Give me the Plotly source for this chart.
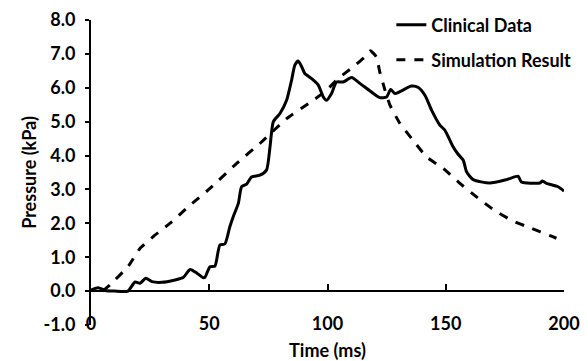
import plotly.graph_objects as go

# Clinical data (time ms, pressure kPa)
clin_t = [0, 3, 6, 10, 15.6, 18.6, 20.7, 23.2, 25.8, 30, 35.5, 39, 41.9, 44.8, 47.3, 48.2,
          50.3, 52.4, 54.5, 56.6, 58.7, 60.1, 62.3, 63.7, 65.8, 67.9, 71.4, 74.2, 75.7, 77.1,
          79.9, 82.7, 84.8, 86.2, 87.6, 89.1, 90.4, 93.3, 96.1, 98.2, 99.6, 101.7, 103.8,
          106.6, 110.2, 113.7, 117.9, 122.1, 125, 126.7, 128.5, 131.3, 135.5, 138.4, 141.2,
          144, 147.5, 149.6, 153.1, 155, 157.4, 158.8, 161.6, 168.6, 175.7, 180.6, 182,
          189.8, 190.9, 192.6, 197.5, 200]
clin_p = [0.03, 0.1, 0.02, 0.0, 0.0, 0.27, 0.23, 0.38, 0.28, 0.26, 0.33, 0.4, 0.64, 0.53, 0.4, 0.41,
          0.72, 0.74, 1.36, 1.39, 1.9, 2.19, 2.59, 3.08, 3.16, 3.37, 3.42, 3.57, 4.26, 5.0,
          5.24, 5.63, 6.22, 6.67, 6.79, 6.62, 6.42, 6.27, 6.08, 5.73, 5.63, 5.83, 6.17,
          6.17, 6.3, 6.13, 5.91, 5.71, 5.73, 5.95, 5.83, 5.91, 6.05, 6.01, 5.78,
          5.34, 4.9, 4.75, 4.26, 4.06, 3.86, 3.52, 3.29, 3.19, 3.29, 3.39, 3.22,
          3.19, 3.25, 3.18, 3.08, 2.95]

# Simulation result
sim_t = [5, 8, 15.8, 20.7, 27, 34.1, 41.1, 50.3, 61.6, 72.1, 82.7, 94, 99.6, 104.5,
         110.9, 115.8, 118.2, 120.7, 122.1, 124.3, 126.4, 130.6, 136.2, 141.9, 148.9,
         156, 163, 170, 177.8, 185.5, 194.7, 196.8]
sim_p = [0.0, 0.18, 0.74, 1.26, 1.65, 2.04, 2.49, 3.03, 3.77, 4.4, 5.09, 5.63, 5.93, 6.27,
         6.62, 6.91, 7.09, 6.91, 6.47, 5.93, 5.49, 4.95, 4.45, 3.96, 3.62,
         3.18, 2.78, 2.41, 2.09, 1.87, 1.62, 1.56]

x_ticks = [0, 50, 100, 150, 200]
y_ticks = [-1, 0, 1, 2, 3, 4, 5, 6, 7, 8]
y_tick_labels = ["-1.0", "0.0", "1.0", "2.0", "3.0", "4.0", "5.0", "6.0", "7.0", "8.0"]

FONT = "Lato"
FS = 18
fig = go.Figure()
fig.add_trace(go.Scatter(x=clin_t, y=clin_p, mode="lines", name="Clinical Data",
                         line=dict(color="black", width=3, shape="spline", smoothing=0.6),
                         legend="legend"))
fig.add_trace(go.Scatter(x=sim_t, y=sim_p, mode="lines", name="Simulation Result",
                         line=dict(color="black", width=3, dash="dash", shape="spline", smoothing=0.4),
                         legend="legend2"))

fig.update_layout(
    width=588, height=361,
    margin=dict(l=91, r=24, t=20, b=36, autoexpand=False),
    plot_bgcolor="white", paper_bgcolor="white",
    font=dict(family=FONT, size=FS, color="black", weight="bold"),
    xaxis=dict(range=[0, 200], tickvals=x_ticks, showline=False, showgrid=False,
               zeroline=False, ticks="", ticklabelstandoff=-14, automargin=False,
               title=dict(text="Time (ms)", standoff=11, font=dict(size=FS, weight="bold"))),
    xaxis2=dict(range=[0, 200], matches="x", overlaying="x", anchor="free", position=1/9,
                tickvals=x_ticks, showline=True, linewidth=2, linecolor="black",
                ticks="inside", ticklen=6, tickwidth=2, tickcolor="black",
                showticklabels=False, showgrid=False, zeroline=False, automargin=False),
    yaxis=dict(range=[-1, 8], tickvals=y_ticks, ticktext=y_tick_labels, showline=True,
               linewidth=2, linecolor="black", ticks="outside", ticklen=4, tickwidth=2,
               tickcolor="black", showgrid=False, zeroline=False, ticklabelstandoff=6,
               automargin=False,
               title=dict(text="Pressure (kPa)", standoff=2, font=dict(size=FS, weight="bold"))),
    legend=dict(x=0.635, y=1 - 25 / 361, yref="container",
                xanchor="left", yanchor="middle", bgcolor="rgba(0,0,0,0)",
                font=dict(size=FS, weight="bold")),
    legend2=dict(x=0.635, y=1 - 60 / 361, yref="container", xanchor="left", yanchor="middle",
                 bgcolor="rgba(0,0,0,0)", font=dict(size=FS, weight="bold")),
    showlegend=True,
)
fig.add_trace(go.Scatter(x=[None], y=[None], xaxis="x2", showlegend=False, hoverinfo="skip"))

fig.write_html("out.html", config={"displayModeBar": False},
               post_script="document.body.style.margin='0';")
